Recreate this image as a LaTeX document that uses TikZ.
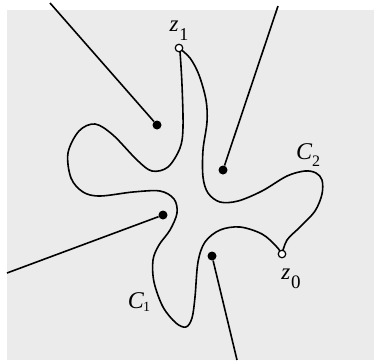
\documentclass[tikz,border=0pt]{standalone}
\usepackage{fontspec}
\setmainfont{Liberation Serif}
\definecolor{bg}{RGB}{235,235,235}
\begin{document}
\begin{tikzpicture}[x=1pt,y=-1pt,
  curve/.style={line width=1.6pt,line join=round,line cap=round},
  ray/.style={line width=1.6pt},
  pole/.style={circle,fill=black,inner sep=0pt,minimum size=9pt},
  endpt/.style={circle,draw=black,fill=white,line width=1.2pt,inner sep=0pt,minimum size=7.5pt},
  lbl/.style={inner sep=0pt}]
\useasboundingbox (0,0) rectangle (374,360);
\fill[white] (0,0) rectangle (374,360);
\fill[bg] (7,10) rectangle (374,360);
% points
\coordinate (z0) at (282,254);
\coordinate (z1) at (179,48);
\coordinate (e1) at (50,3);
\coordinate (e2) at (278,6);
\coordinate (e3) at (7,273);
\coordinate (e4) at (237,360);
\node[pole] (p1) at (157,125) {};
\node[pole] (p2) at (223,170) {};
\node[pole] (p3) at (163,215) {};
\node[pole] (p4) at (212,256) {};
% rays
\draw[ray] (p1) -- (e1);
\draw[ray] (p2) -- (e2);
\draw[ray] (p3) -- (e3);
\draw[ray] (p4) -- (e4);
% C1
\draw[curve] plot[smooth,tension=0.55] coordinates {(z0) (276,246) (262,234) (240,227) (220,230) (205,242) (198,262) (195,297) (192,318) (186,327) (176,323) (163,307) (154,282) (153,260) (159,245) (170,230) (177,213) (174,199) (160,191) (133,192) (100,196) (83,192) (71,178) (68,153) (79,131) (95,124) (113,135) (137,160) (152,171) (168,167) (180,148) (183,127) (182,85) (180,52) (z1)};
% C2
\draw[curve] plot[smooth,tension=0.55] coordinates {(z0) (287,240) (300,227) (315,211) (322,194) (322,180) (316,173) (305,171) (287,176) (262,191) (238,201) (220,202) (208,193) (203,177) (203,150) (207,122) (206,100) (199,75) (190,58) (z1)};
\node[endpt] (n0) at (z0) {};
\node[endpt] (n1) at (z1) {};
% labels
\node[lbl] (lz1) at (179,31) {{\fontsize{23}{26}\selectfont\itshape z}\kern1pt\raisebox{-9pt}{\fontsize{18}{20}\selectfont 1}};
\node[lbl] (lz0) at (291,279) {{\fontsize{23}{26}\selectfont\itshape z}\kern1pt\raisebox{-9pt}{\fontsize{19}{21}\selectfont 0}};
\node[lbl] (lc1) at (139,302) {{\fontsize{24}{26}\selectfont\itshape C}\kern-1pt\raisebox{-3pt}{\fontsize{14}{16}\selectfont 1}};
\node[lbl] (lc2) at (308,155) {{\fontsize{24}{26}\selectfont\itshape C}\kern0pt\raisebox{-7pt}{\fontsize{16}{18}\selectfont 2}};
\end{tikzpicture}
\end{document}
